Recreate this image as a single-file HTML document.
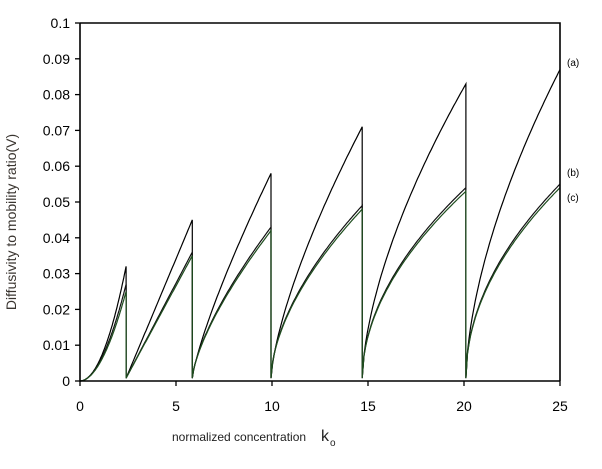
<!DOCTYPE html>
<html><head><style>body{margin:0;background:#fff}svg{display:block}</style></head>
<body>
<svg id="s" width="602" height="469" xmlns="http://www.w3.org/2000/svg" font-family="Liberation Sans, sans-serif">
<rect width="602" height="469" fill="#fff"/>
<g id="curves" fill="none" stroke-width="1.2"></g>
<path d="M80,23 H560 V381 M80,23 V381 H560" fill="none" stroke="#000" stroke-width="1.6"/>
<g id="ticks" stroke="#000" stroke-width="1.3"></g>
<g id="lab" font-size="14" fill="#000"></g>
<text x="16" y="222" font-size="14" fill="#3a3530" text-anchor="middle" transform="rotate(-90 16 222)">Diffusivity to mobility ratio(V)</text>
<text x="172" y="441" font-size="12" fill="#222">normalized concentration</text>
<text x="321" y="441" font-size="16" fill="#222">k</text><text x="330" y="446" font-size="10" fill="#222">o</text>
<text x="567" y="66" font-size="10">(a)</text>
<text x="567" y="176" font-size="10">(b)</text>
<text x="567" y="201" font-size="10">(c)</text>
</svg>
<script>
const X=v=>80+v*19.2, Y=v=>381-v*3580;
const brk=[0,2.4,5.85,9.95,14.7,20.1,25];
const pa=[0.032,0.045,0.058,0.071,0.083,0.087];
const pb=[0.027,0.036,0.043,0.049,0.054,0.055];
const pc=[0.025,0.035,0.042,0.048,0.053,0.054];
const pwA=[2,1,0.8,0.7,0.62,0.6], pwB=[1.9,1,0.7,0.58,0.52,0.5];
function path(pk,pw){let d='';for(let i=0;i<6;i++){const a=brk[i],b=brk[i+1];const s=i==0?0:0.0008;
for(let k=0;k<=60;k++){const t=k/60;const x=a+(b-a)*t;const y=s+(pk[i]-s)*Math.pow(t,pw[i]);d+=(k==0?(i==0?'M':'L'):'L')+X(x).toFixed(1)+','+Y(y).toFixed(1);}}
return d;}
const g=document.getElementById('curves');
[[pa,pwA,'#000'],[pb,pwB,'#111'],[pc,pwB,'#1e4d1e']].forEach(([p,w,c])=>{const e=document.createElementNS('http://www.w3.org/2000/svg','path');e.setAttribute('d',path(p,w));e.setAttribute('stroke',c);g.appendChild(e);});
let t='',l='';
for(let i=0;i<=10;i++){const y=Y(i/100);t+=`<line x1="75" x2="80" y1="${y}" y2="${y}"/>`;l+=`<text x="70" y="${y+5}" text-anchor="end">${i==0?'0':i==10?'0.1':(i/100).toFixed(2)}</text>`;}
for(let v=0;v<=25;v+=5){const x=X(v);t+=`<line x1="${x}" x2="${x}" y1="381" y2="386"/>`;l+=`<text x="${x}" y="411" text-anchor="middle">${v}</text>`;}
document.getElementById('ticks').innerHTML=t;document.getElementById('lab').innerHTML=l;
</script>
</body></html>
